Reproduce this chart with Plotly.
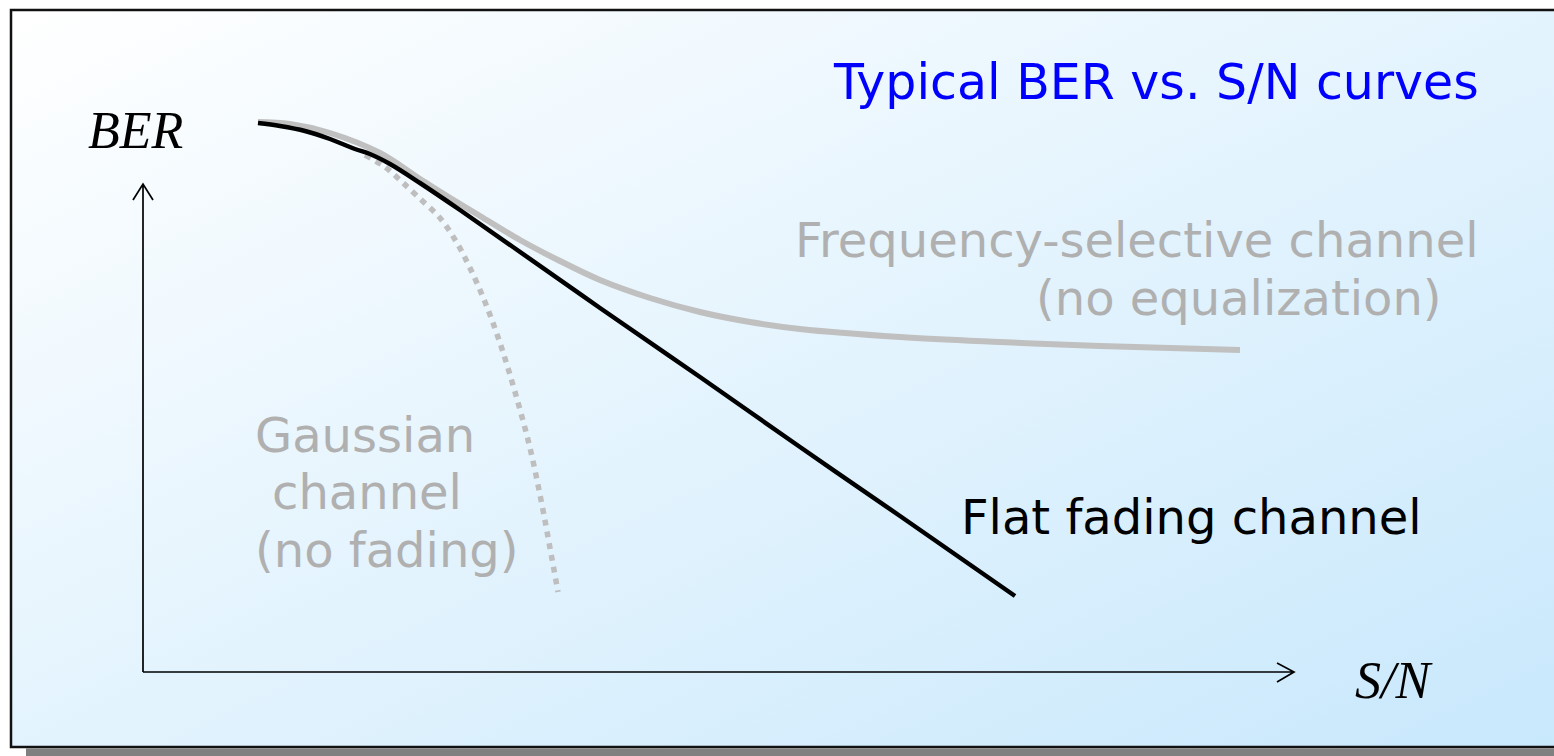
import base64
import plotly.graph_objects as go

# ---- data (S/N offset, BER offset) ----
flat_x = [115, 137, 162, 187, 212, 227, 247, 277, 317, 370, 457, 557, 657, 757, 872]
flat_y = [549, 546, 541, 533, 523, 518, 508, 489, 462, 425, 364, 295, 225, 156, 76]

freq_x = [115, 147, 187, 237, 277, 304, 337, 377, 417, 457, 507, 557, 607, 657, 757, 857, 957, 1097]
freq_y = [550, 548, 539, 519, 493, 476, 456, 432, 411, 392, 374, 360, 350, 343, 335, 330, 326, 322]

gauss_x = [222, 242, 257, 274, 297, 314, 327, 342, 357, 372, 387, 399, 407, 415]
gauss_y = [517, 505, 492, 476, 454, 429, 404, 370, 329, 280, 224, 167, 124, 80]

W, H = 1554, 756
PAGE = 0           # page (body) margin removed by post_script
OX, OY = 143, 672  # axis origin in window pixels

svg = f'''<svg xmlns="http://www.w3.org/2000/svg" width="{W}" height="{H}" viewBox="0 0 {W} {H}" preserveAspectRatio="none">
<defs><linearGradient id="g" x1="0" y1="0" x2="1" y2="1">
<stop offset="0" stop-color="#FFFFFF"/><stop offset="1" stop-color="#C8E8FC"/></linearGradient></defs>
<rect x="0" y="0" width="{W}" height="{H}" fill="#FFFFFF"/>
<rect x="{11-PAGE}" y="{10-PAGE}" width="{W}" height="{747-10}" fill="url(#g)"/>
</svg>'''
src = "data:image/svg+xml;base64," + base64.b64encode(svg.encode()).decode()

fig = go.Figure()
fig.add_trace(go.Scatter(x=gauss_x, y=gauss_y, mode="lines", line_shape="spline",
                         line=dict(color="#BEBEBE", width=5.5, dash="6px,6px"),
                         hoverinfo="skip", showlegend=False))
fig.add_trace(go.Scatter(x=freq_x, y=freq_y, mode="lines", line_shape="spline",
                         line=dict(color="#C0C0C0", width=6),
                         hoverinfo="skip", showlegend=False))
fig.add_trace(go.Scatter(x=flat_x, y=flat_y, mode="lines", line_shape="spline",
                         line=dict(color="#000000", width=4.5),
                         hoverinfo="skip", showlegend=False))

def px(x):   # window pixel -> data x
    return x - OX

def py(y):   # window pixel -> data y
    return OY - y

def ppx(x):  # window pixel -> paper x
    return (x - PAGE) / W

def ppy(y):  # window pixel -> paper y
    return 1 - (y - PAGE) / H

sans = "DejaVu Sans, Verdana, sans-serif"
serif = "Liberation Serif, Times New Roman, serif"
grey = "#B0B0B0"
ann = [
    dict(text="Typical BER vs. S/N curves", x=px(1481), y=py(82), xanchor="right",
         font=dict(family=sans, size=49, color="#0000FF")),
    dict(text="Frequency-selective channel", x=px(1481), y=py(240), xanchor="right",
         font=dict(family=sans, size=48, color=grey)),
    dict(text="(no equalization)", x=px(1444), y=py(298), xanchor="right",
         font=dict(family=sans, size=48, color=grey)),
    dict(text="Flat fading channel", x=px(959), y=py(517), xanchor="left",
         font=dict(family=sans, size=48, color="#000000")),
    dict(text="Gaussian", x=px(253), y=py(435), xanchor="left",
         font=dict(family=sans, size=48, color=grey)),
    dict(text="channel", x=px(270), y=py(492), xanchor="left",
         font=dict(family=sans, size=48, color=grey)),
    dict(text="(no fading)", x=px(253), y=py(550), xanchor="left",
         font=dict(family=sans, size=48, color=grey)),
    dict(text="<i>BER</i>", x=px(86), y=py(130), xanchor="left",
         font=dict(family=serif, size=52, color="#000000")),
    dict(text="<i>S/N</i>", x=px(1353), y=py(680), xanchor="left",
         font=dict(family=serif, size=52, color="#000000")),
]
for a in ann:
    a.update(xref="x", yref="y", showarrow=False, yanchor="middle")

shapes = [
    # axes with open arrowheads
    dict(type="path", xref="x", yref="y", path="M0,0 L0,488 M-10,472 L0,488 L10,472",
         line=dict(color="#000000", width=1.7)),
    dict(type="path", xref="x", yref="y", path="M0,0 L1151,0 M1134,9 L1151,0 L1134,-10",
         line=dict(color="#000000", width=1.7)),
    # frame shadow
    dict(type="rect", xref="paper", yref="paper", x0=ppx(26), x1=1.0, y0=0, y1=ppy(748.5),
         fillcolor="#808080", line=dict(width=0), layer="above"),
    # frame
    dict(type="rect", xref="paper", yref="paper", x0=ppx(11), x1=1.02, y0=ppy(747), y1=ppy(10),
         line=dict(color="#111111", width=2.5), fillcolor="rgba(0,0,0,0)"),
]

fig.update_layout(
    width=W, height=H, autosize=False,
    margin=dict(l=0, r=0, t=0, b=0),
    paper_bgcolor="rgba(0,0,0,0)", plot_bgcolor="rgba(0,0,0,0)",
    xaxis=dict(range=[-(OX - PAGE), W - (OX - PAGE)], visible=False, fixedrange=True),
    yaxis=dict(range=[(OY - PAGE) - H, OY - PAGE], visible=False, fixedrange=True),
    annotations=ann, shapes=shapes,
    images=[dict(source=src, xref="paper", yref="paper", x=0, y=1, sizex=1, sizey=1,
                 xanchor="left", yanchor="top", sizing="stretch", layer="below")],
    showlegend=False,
)

fig.write_html(
    "out.html",
    config={"displayModeBar": False},
    post_script="document.body.style.margin='0';document.documentElement.style.overflow='hidden';",
)
